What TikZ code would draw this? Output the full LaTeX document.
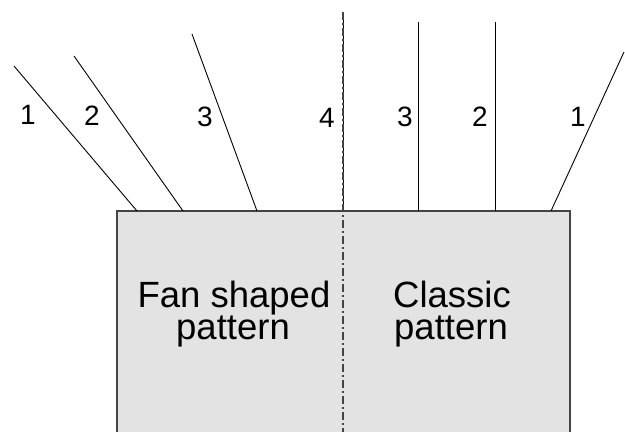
\documentclass[tikz,border=0pt]{standalone}
\usepackage{fontspec}
\setmainfont{Liberation Sans}
\definecolor{panel}{HTML}{E3E3E3}
\definecolor{edge}{HTML}{444444}
\begin{document}
\begin{tikzpicture}[x=1pt,y=-1pt,
  ray/.style={black,line width=0.9pt},
  axis/.style={edge,line width=1.1pt,dash pattern=on 8pt off 3pt on 2pt off 3pt},
  num/.style={font=\fontsize{28}{28}\selectfont,inner sep=0pt},
  caption/.style={font=\fontsize{36.5}{36}\selectfont,inner sep=0pt,anchor=base},
  upper/.style={caption,text height=26pt,text depth=5pt},
  lower/.style={caption,text height=24pt,text depth=8pt}]
\useasboundingbox (0,0) rectangle (625,432);

% block open at the bottom
\fill[panel] (117,211) rectangle (570,432);
\draw[edge,line width=1.4pt] (117,432) -- (117,211) -- (570,211) -- (570,432);

% foot points of the rays on the top edge
\coordinate (fa1) at (137,211);
\coordinate (fa2) at (183,211);
\coordinate (fa3) at (257,211);
\coordinate (c4)  at (343,211);
\coordinate (cb3) at (418,211);
\coordinate (cb2) at (495,211);
\coordinate (cb1) at (551,211);

% free ends of the rays
\coordinate (fa1e) at (14,66);
\coordinate (fa2e) at (74,56);
\coordinate (fa3e) at (192,34);
\coordinate (c4e)  at (343,12);
\coordinate (cb3e) at (418,22);
\coordinate (cb2e) at (495,22);
\coordinate (cb1e) at (624,52);
\coordinate (axb)  at (343,432);

\draw[ray] (fa1) -- (fa1e);
\draw[ray] (fa2) -- (fa2e);
\draw[ray] (fa3) -- (fa3e);
\draw[ray] (c4) -- (c4e);
\draw[ray] (cb3) -- (cb3e);
\draw[ray] (cb2) -- (cb2e);
\draw[ray] (cb1) -- (cb1e);

% symmetry axis
\draw[axis] (c4e) -- (axb);

% ray numbers
\node[num] (n1a) at (28,115)  {1};
\node[num] (n2a) at (92,116)  {2};
\node[num] (n3a) at (205,117) {3};
\node[num] (n4)  at (327,118) {4};
\node[num] (n3b) at (405,117) {3};
\node[num] (n2b) at (480,117) {2};
\node[num] (n1b) at (578,117) {1};

% captions, one node per line
\node[upper] (fan1) at (234,307) {Fan shaped};
\node[lower] (fan2) at (233,339) {pattern};
\node[upper] (cls1) at (452,307) {Classic};
\node[lower] (cls2) at (451,339) {pattern};
\end{tikzpicture}
\end{document}
